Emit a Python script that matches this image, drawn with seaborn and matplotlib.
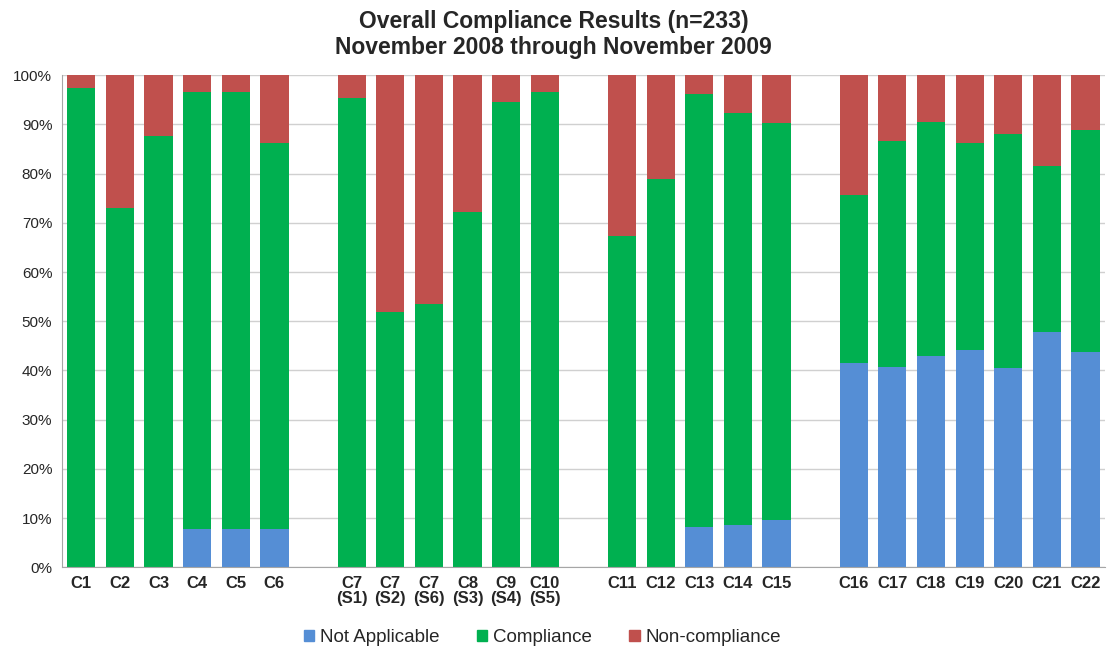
import matplotlib
matplotlib.use("Agg")
import matplotlib.pyplot as plt
import matplotlib.patches as mpatches
from matplotlib.ticker import PercentFormatter, MultipleLocator
import seaborn as sns
import numpy as np
import pandas as pd

categories = ["C1", "C2", "C3", "C4", "C5", "C6",
              "C7\n(S1)", "C7\n(S2)", "C7\n(S6)", "C8\n(S3)", "C9\n(S4)", "C10\n(S5)",
              "C11", "C12", "C13", "C14", "C15",
              "C16", "C17", "C18", "C19", "C20", "C21", "C22"]
not_applicable = [0, 0, 0, 7.7, 7.7, 7.7,
                  0, 0, 0, 0, 0, 0,
                  0, 0, 8.1, 8.6, 9.5,
                  41.5, 40.7, 42.9, 44.2, 40.4, 47.9, 43.8]
compliance = [97.4, 73.0, 87.6, 88.9, 88.9, 78.6,
              95.4, 51.9, 53.5, 72.2, 94.5, 96.6,
              67.4, 78.9, 88.0, 83.7, 80.7,
              34.1, 46.0, 47.6, 42.1, 47.6, 33.6, 45.0]
non_compliance = [100 - a - b for a, b in zip(not_applicable, compliance)]

# empty slots between the groups
order = (categories[:6] + [""] + categories[6:12] + [" "] +
         categories[12:17] + ["  "] + categories[17:])

df = pd.DataFrame({"cat": categories, "na": not_applicable,
                   "comp": compliance, "non": non_compliance})
df["lvl_non"] = df["na"] + df["comp"] + df["non"]
df["lvl_comp"] = df["na"] + df["comp"]
df["lvl_na"] = df["na"]

c_na, c_comp, c_non = "#558ED5", "#00B050", "#C0504D"

sns.set_style("white")
plt.rcParams["font.family"] = ["Liberation Sans", "DejaVu Sans"]

fig = plt.figure(figsize=(11.07, 6.49), dpi=100)
ax = fig.add_axes([0.056, 0.126, 0.942, 0.758])

for col, color in [("lvl_non", c_non), ("lvl_comp", c_comp), ("lvl_na", c_na)]:
    sns.barplot(data=df, x="cat", y=col, order=order, color=color,
                saturation=1, width=0.73, ax=ax, errorbar=None, linewidth=0)

ax.set_ylim(0, 100)
ax.set_xlim(-0.5, len(order) - 0.5)
ax.yaxis.set_major_locator(MultipleLocator(10))
ax.yaxis.set_major_formatter(PercentFormatter(decimals=0))
ax.yaxis.grid(True, color="#D0D0D0", linewidth=1)
ax.set_axisbelow(True)
ax.set_xlabel("")
ax.set_ylabel("")

for s in ["top", "right"]:
    ax.spines[s].set_visible(False)
for s in ["left", "bottom"]:
    ax.spines[s].set_color("#A6A6A6")

ax.set_xticks(np.arange(-0.5, len(order), 1), minor=True)
ax.tick_params(axis="x", which="major", length=0, pad=6, labelsize=12)
ax.tick_params(axis="x", which="minor", length=5, color="#A6A6A6")
ax.tick_params(axis="y", length=4, color="#A6A6A6", labelsize=11, pad=3)
for lbl in ax.get_xticklabels():
    lbl.set_fontweight("bold")
    lbl.set_linespacing(1.05)
    lbl.set_verticalalignment("top")

fig.suptitle("Overall Compliance Results (n=233)\nNovember 2008 through November 2009",
             fontsize=16.5, fontweight="bold", y=0.985, linespacing=1.2)

handles = [mpatches.Patch(color=c_na, label="Not Applicable"),
           mpatches.Patch(color=c_comp, label="Compliance"),
           mpatches.Patch(color=c_non, label="Non-compliance")]
fig.legend(handles=handles, loc="lower center", bbox_to_anchor=(0.49, -0.022), ncol=3,
           frameon=False, fontsize=13.5, handlelength=0.55, handleheight=0.55,
           handletextpad=0.3, columnspacing=2.0)

fig.savefig("out.png", dpi=100)
